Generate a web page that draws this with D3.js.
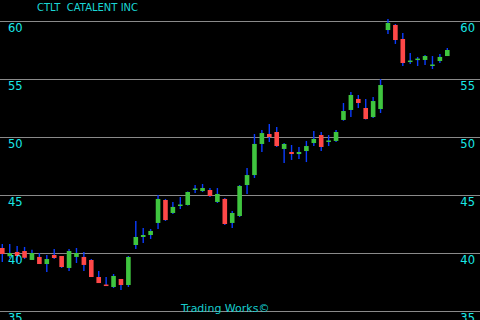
<!DOCTYPE html>
<html>
<head>
<meta charset="utf-8">
<script src="https://cdn.jsdelivr.net/npm/d3@7"></script>
<style>
  html, body { margin: 0; padding: 0; background: #000; }
  svg { display: block; }
</style>
</head>
<body>
<div id="chart"></div>
<script>
// CTLT daily candles
const opens  = [40.43, 39.72, 40.09, 40.17, 39.40, 39.66, 39.05, 39.83, 39.74, 38.71,
                39.66, 39.66, 39.40, 37.93, 37.28, 37.07, 37.76, 37.24, 40.69, 41.38,
                41.55, 42.59, 44.57, 43.45, 44.10, 44.14, 45.47, 45.34, 45.43, 44.40,
                44.66, 42.59, 43.19, 45.86, 46.72, 49.40, 50.26, 50.43, 48.97, 48.71,
                48.53, 48.79, 49.48, 50.17, 49.61, 49.66, 51.47, 52.33, 53.28, 52.50,
                51.72, 52.41, 59.22, 59.66, 58.45, 56.51, 56.68, 56.64, 56.16, 56.55,
                56.98];
const highs  = [40.78, 40.78, 40.60, 40.52, 40.28, 40.00, 39.83, 40.34, 39.74, 40.34,
                40.43, 40.09, 39.48, 38.45, 37.93, 38.19, 37.76, 39.74, 42.76, 42.16,
                42.07, 45.00, 44.66, 44.40, 44.83, 45.30, 45.86, 45.95, 45.60, 45.60,
                44.74, 43.62, 45.86, 47.33, 50.26, 50.60, 51.12, 50.86, 49.48, 49.31,
                49.14, 49.66, 50.52, 50.43, 50.17, 50.60, 52.93, 53.88, 53.62, 53.28,
                53.45, 55.00, 60.17, 59.74, 58.97, 57.24, 56.90, 57.07, 56.98, 57.16,
                57.67];
const lows   = [39.22, 39.57, 39.22, 39.48, 39.40, 39.05, 38.36, 39.48, 38.71, 38.45,
                39.14, 38.45, 37.93, 37.41, 37.16, 36.98, 36.81, 37.07, 40.34, 40.86,
                41.21, 42.07, 42.76, 43.36, 43.79, 44.10, 45.17, 45.26, 44.83, 44.31,
                42.41, 42.16, 43.10, 45.09, 46.47, 48.71, 49.57, 49.14, 47.76, 48.02,
                48.10, 47.84, 49.22, 48.79, 49.22, 49.57, 51.40, 51.72, 52.50, 51.50,
                51.64, 52.07, 58.88, 58.02, 56.12, 56.29, 56.12, 56.21, 55.86, 56.38,
                56.98];
const closes = [39.91, 40.00, 39.74, 39.59, 40.00, 39.05, 39.48, 39.57, 38.79, 40.17,
                40.00, 38.97, 37.93, 37.41, 37.20, 38.02, 37.24, 39.66, 41.38, 41.55,
                41.90, 44.66, 42.84, 43.97, 44.18, 45.26, 45.56, 45.60, 44.91, 45.09,
                42.50, 43.45, 45.78, 46.72, 49.40, 50.34, 50.00, 49.22, 49.40, 48.53,
                48.71, 49.22, 49.83, 49.14, 49.70, 50.43, 52.24, 53.62, 52.93, 51.55,
                53.10, 54.48, 59.83, 58.36, 56.38, 56.59, 56.76, 56.98, 56.25, 56.90,
                57.50];

const priceTicks = [35, 40, 45, 50, 55, 60];
const title = 'CTLT  CATALENT INC';
const footer = 'Trading Works\u00A9';

const width = 480;
const height = 320;

const candles = opens.map((o, i) => ({ i: i, open: o, high: highs[i], low: lows[i], close: closes[i] }));

const svg = d3.select('#chart').append('svg')
  .attr('width', width)
  .attr('height', height)
  .style('background', '#000');

const xScale = d3.scaleLinear()
  .domain([0, candles.length - 1])
  .range([2.3, 447.3]);

const yScale = d3.scaleLinear()
  .domain([35, 60])
  .range([311, 21]);

// grid lines come from an axis with full-width ticks
const grid = svg.append('g')
  .attr('class', 'grid')
  .call(d3.axisRight(yScale).tickValues(priceTicks).tickSize(width).tickFormat(''));
grid.select('.domain').remove();
grid.selectAll('.tick line')
  .attr('stroke', '#8a8a8a')
  .attr('stroke-width', 1)
  .attr('shape-rendering', 'crispEdges');

const bodyW = 4.6;

// wicks
svg.append('g').selectAll('line')
  .data(candles)
  .enter().append('line')
  .attr('x1', d => xScale(d.i))
  .attr('x2', d => xScale(d.i))
  .attr('y1', d => yScale(d.high))
  .attr('y2', d => yScale(d.low))
  .attr('stroke', '#0a3cff')
  .attr('stroke-width', 1.4);

// bodies
svg.append('g').selectAll('rect')
  .data(candles)
  .enter().append('rect')
  .attr('x', d => xScale(d.i) - bodyW / 2)
  .attr('y', d => yScale(Math.max(d.open, d.close)))
  .attr('width', bodyW)
  .attr('height', d => Math.max(1.5, Math.abs(yScale(d.open) - yScale(d.close))))
  .attr('fill', d => d.close >= d.open ? '#3fc53f' : '#ff4848');

// price labels, both sides, just under each grid line
const labels = svg.append('g')
  .style('font-family', 'DejaVu Sans, sans-serif')
  .style('font-size', '11.5px')
  .attr('fill', '#19e8e8');

labels.selectAll('text.left')
  .data(priceTicks)
  .enter().append('text')
  .attr('class', 'left')
  .attr('x', 8)
  .attr('y', d => yScale(d) + 11)
  .text(d => d);

labels.selectAll('text.right')
  .data(priceTicks)
  .enter().append('text')
  .attr('class', 'right')
  .attr('x', 475)
  .attr('y', d => yScale(d) + 11)
  .attr('text-anchor', 'end')
  .text(d => d);

svg.append('text')
  .attr('x', 37)
  .attr('y', 11)
  .style('font-family', 'DejaVu Sans, sans-serif')
  .style('font-size', '10px')
  .style('white-space', 'pre')
  .attr('fill', '#1ad6d6')
  .text(title);

svg.append('text')
  .attr('x', 181)
  .attr('y', 312)
  .style('font-family', 'DejaVu Sans, sans-serif')
  .style('font-size', '11px')
  .attr('fill', '#16cccc')
  .text(footer);
</script>
</body>
</html>
